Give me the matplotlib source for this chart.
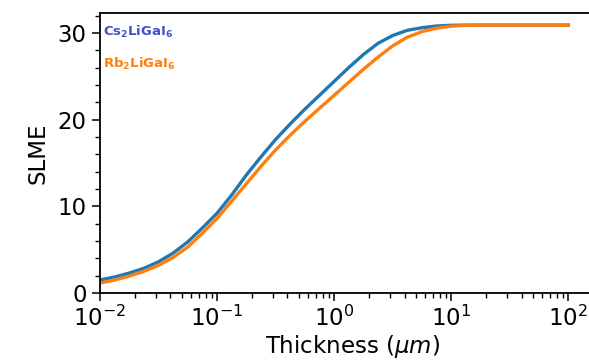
import numpy as np
import matplotlib
matplotlib.use("Agg")
import matplotlib.pyplot as plt
from matplotlib.ticker import MultipleLocator

# thickness in micrometres (log10 steps)
log_thickness = [-2.0, -1.875, -1.75, -1.625, -1.5, -1.375, -1.25, -1.125, -1.0,
                 -0.875, -0.75, -0.625, -0.5, -0.375, -0.25, -0.125, 0.0,
                 0.125, 0.25, 0.375, 0.5, 0.625, 0.75, 0.875, 1.0, 1.125,
                 1.25, 1.5, 2.0]
thickness = 10.0 ** np.array(log_thickness)

# SLME (%) values
slme_cs = [1.5, 1.85, 2.3, 2.85, 3.6, 4.6, 5.9, 7.5, 9.2,
           11.3, 13.6, 15.7, 17.7, 19.5, 21.2, 22.8, 24.4,
           26.0, 27.5, 28.8, 29.7, 30.3, 30.6, 30.8, 30.88, 30.9,
           30.9, 30.9, 30.9]
slme_rb = [1.15, 1.5, 1.95, 2.5, 3.2, 4.1, 5.3, 6.9, 8.6,
           10.6, 12.6, 14.6, 16.5, 18.2, 19.8, 21.3, 22.8,
           24.3, 25.8, 27.2, 28.5, 29.5, 30.15, 30.55, 30.78, 30.88,
           30.9, 30.9, 30.9]

labels = [r'$\mathbf{Cs_2LiGaI_6}$', r'$\mathbf{Rb_2LiGaI_6}$']

fig = plt.figure(figsize=(5.89, 3.6), dpi=100)
ax = fig.add_axes([100/589, 67/360, 505/589, 280/360])

ax.plot(thickness, slme_cs, color='#1f77b4', linewidth=2.4)
ax.plot(thickness, slme_rb, color='#ff7f0e', linewidth=2.4)

ax.set_xscale('log')
ax.set_xlim(1e-2, 10**2.315)
ax.set_ylim(0, 32.3)
ax.yaxis.set_major_locator(MultipleLocator(10))
ax.yaxis.set_minor_locator(MultipleLocator(2))

ax.text(0.0106, 30.1, labels[0], color='#3f51c8', fontsize=9.5, va='center', ha='left')
ax.text(0.0106, 26.4, labels[1], color='#ff7f0e', fontsize=9.5, va='center', ha='left')

ax.set_xlabel(r'Thickness ($\mu m$)', fontsize=16.5, labelpad=1)
ax.set_ylabel('SLME', fontsize=16.5, labelpad=6)
ax.tick_params(axis='both', which='major', labelsize=16.5, length=6, width=1.1)
ax.tick_params(axis='both', which='minor', length=3.5, width=1.0)
for s in ax.spines.values():
    s.set_linewidth(1.3)
# the picture is cut off on the right, so no right frame line
ax.spines['right'].set_visible(False)

fig.savefig('out.png', dpi=100)
